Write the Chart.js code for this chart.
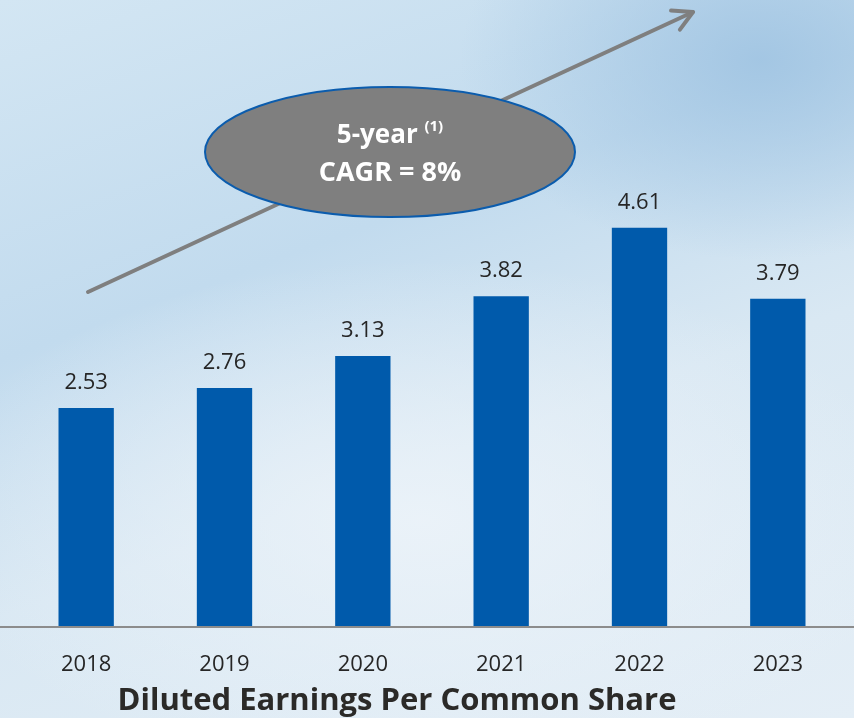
<!DOCTYPE html>
<html>
<head>
<meta charset="utf-8">
<script src="https://cdn.jsdelivr.net/npm/chart.js@4.4.0/dist/chart.umd.min.js"></script>
<style>
  html, body { margin: 0; padding: 0; }
  body {
    width: 854px; height: 718px; overflow: hidden;
    background:
      radial-gradient(ellipse 300px 200px at 760px 60px, rgba(160,196,226,0.9), rgba(160,196,226,0) 100%),
      radial-gradient(ellipse 500px 260px at 420px 520px, rgba(236,243,249,0.9), rgba(236,243,249,0) 100%),
      linear-gradient(160deg, #d3e6f3 0%, #c2dbee 35%, #d9e8f3 60%, #e4eef6 100%);
  }
  canvas { display: block; }
</style>
</head>
<body>
<canvas id="myChart" width="854" height="718"></canvas>
<script>
// data
var years = ["2018", "2019", "2020", "2021", "2022", "2023"];
var eps = [2.53, 2.76, 3.13, 3.82, 4.61, 3.79];
var epsLabels = ["2.53", "2.76", "3.13", "3.82", "4.61", "3.79"];
var chartTitle = "Diluted Earnings Per Common Share";
var cagrLines = ["5-year", "(1)", "CAGR = 8%"];

var FONT = '"Open Sans", Lato, sans-serif';

// value labels above the bars
var valueLabels = {
    id: 'valueLabels',
    afterDatasetsDraw: function(chart) {
        var ctx = chart.ctx;
        var meta = chart.getDatasetMeta(0);
        ctx.save();
        ctx.fillStyle = '#262626';
        ctx.font = '22px ' + FONT;
        ctx.textAlign = 'center';
        ctx.textBaseline = 'alphabetic';
        meta.data.forEach(function(bar, i) {
            ctx.fillText(epsLabels[i], bar.x, bar.y - 19);
        });
        ctx.restore();
    }
};

// axis line across the full width, title, growth arrow and CAGR bubble
var decorations = {
    id: 'decorations',
    afterDraw: function(chart) {
        var ctx = chart.ctx;
        var yb = chart.scales.y.getPixelForValue(0);
        ctx.save();
        ctx.strokeStyle = '#8c8c8c';
        ctx.lineWidth = 2;
        ctx.beginPath();
        ctx.moveTo(0, yb);
        ctx.lineTo(chart.width, yb);
        ctx.stroke();

        // title under the years
        ctx.fillStyle = '#2b2a28';
        ctx.font = 'bold 31px ' + FONT;
        ctx.textAlign = 'center';
        ctx.textBaseline = 'alphabetic';
        ctx.fillText(chartTitle, 397, 710);

        // arrow
        var x1 = 88, y1 = 292, x2 = 693, y2 = 12;
        ctx.strokeStyle = '#7f7f7f';
        ctx.lineWidth = 4;
        ctx.lineCap = 'round';
        ctx.lineJoin = 'round';
        ctx.beginPath();
        ctx.moveTo(x1, y1);
        ctx.lineTo(x2, y2);
        ctx.stroke();
        var ang = Math.atan2(y2 - y1, x2 - x1);
        var hl = 22;
        ctx.beginPath();
        ctx.moveTo(x2 + hl * Math.cos(ang + Math.PI - 0.5), y2 + hl * Math.sin(ang + Math.PI - 0.5));
        ctx.lineTo(x2, y2);
        ctx.lineTo(x2 + hl * Math.cos(ang + Math.PI + 0.5), y2 + hl * Math.sin(ang + Math.PI + 0.5));
        ctx.stroke();

        // bubble
        ctx.beginPath();
        ctx.ellipse(390, 152, 185, 65, 0, 0, Math.PI * 2);
        ctx.fillStyle = '#7f7f7f';
        ctx.fill();
        ctx.strokeStyle = '#0b5cad';
        ctx.lineWidth = 2;
        ctx.stroke();

        ctx.fillStyle = '#ffffff';
        ctx.font = 'bold 26px ' + FONT;
        var w1 = ctx.measureText(cagrLines[0] + ' ').width;
        ctx.font = 'bold 15px ' + FONT;
        var w2 = ctx.measureText(cagrLines[1]).width;
        var sx = 390 - (w1 + w2) / 2;
        ctx.textAlign = 'left';
        ctx.font = 'bold 26px ' + FONT;
        ctx.fillText(cagrLines[0] + ' ', sx, 143);
        ctx.font = 'bold 15px ' + FONT;
        ctx.fillText(cagrLines[1], sx + w1, 131);
        ctx.textAlign = 'center';
        ctx.font = 'bold 27px ' + FONT;
        ctx.fillText(cagrLines[2], 390, 181);
        ctx.restore();
    }
};

var ctx = document.getElementById('myChart').getContext('2d');
var chart = new Chart(ctx, {
    type: 'bar',
    data: {
        labels: years,
        datasets: [{
            label: "Diluted EPS",
            backgroundColor: '#005aab',
            data: eps,
            categoryPercentage: 0.8,
            barPercentage: 0.5
        }]
    },
    options: {
        responsive: false,
        animation: false,
        devicePixelRatio: 1,
        layout: { padding: { left: 17, right: 7, top: 0, bottom: 0 } },
        plugins: {
            legend: { display: false },
            tooltip: { enabled: false }
        },
        scales: {
            x: {
                grid: { display: false },
                border: { display: false },
                ticks: {
                    color: '#262626',
                    font: { family: FONT, size: 22 },
                    padding: 17
                },
                afterFit: function(scale) { scale.height = 91; }
            },
            y: {
                display: false,
                min: 0,
                max: 7.24
            }
        }
    },
    plugins: [valueLabels, decorations]
});
</script>
</body>
</html>
